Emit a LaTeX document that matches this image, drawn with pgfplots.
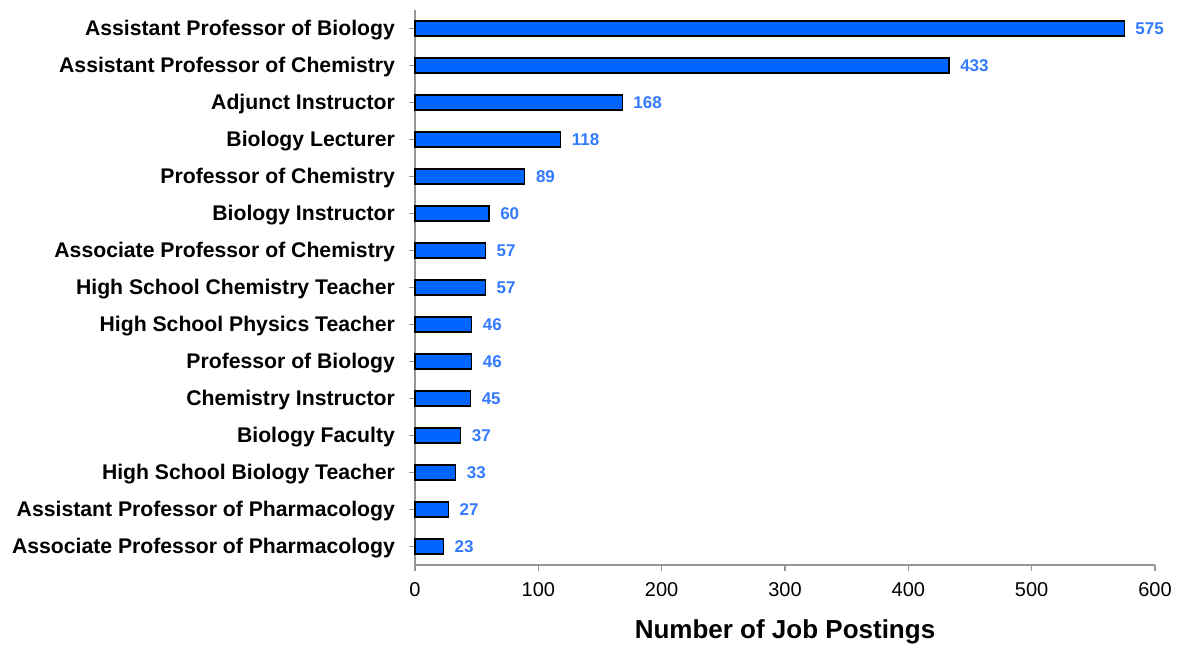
\documentclass[border=0pt]{standalone}
\usepackage{pgfplots}
\pgfplotsset{compat=1.18}
\usepackage{fontspec}
\setmainfont{Liberation Sans}
\definecolor{barblue}{RGB}{0,102,255}
\definecolor{valblue}{RGB}{51,122,255}
\definecolor{axgray}{RGB}{150,150,150}
\begin{document}
\begin{tikzpicture}
\begin{axis}[
  scale only axis,
  width=370pt, height=277.5pt,
  xbar, bar width=7.5pt,
  xmin=0, xmax=600,
  ymin=-0.5, ymax=14.5,
  xtick={0,100,...,600},
  ytick={0,...,14},
  yticklabels={Associate Professor of Pharmacology,Assistant Professor of Pharmacology,High School Biology Teacher,Biology Faculty,Chemistry Instructor,Professor of Biology,High School Physics Teacher,High School Chemistry Teacher,Associate Professor of Chemistry,Biology Instructor,Professor of Chemistry,Biology Lecturer,Adjunct Instructor,Assistant Professor of Chemistry,Assistant Professor of Biology},
  axis x line=bottom, axis y line=left,
  axis line style={axgray, line width=0.8pt, -},
  tick style={axgray, line width=0.8pt},
  tick align=outside,
  major tick length=3pt,
  /pgf/number format/assume math mode=true,
  xticklabel style={font=\fontsize{10}{12}\selectfont, yshift=-2pt},
  yticklabel style={font=\bfseries\fontsize{10.6}{12}\selectfont, xshift=-3.5pt, yshift=-1pt},
  xlabel={Number of Job Postings},
  xlabel style={font=\bfseries\fontsize{13}{15}\selectfont, yshift=-5pt},
  nodes near coords,
  nodes near coords style={anchor=west, xshift=2pt, font=\bfseries\fontsize{8.5}{10}\selectfont, text=valblue},
  clip=false,
]
\addplot[fill=barblue, draw=black, line width=0.6pt] coordinates {
(23,0) (27,1) (33,2) (37,3) (45,4) (46,5) (46,6) (57,7) (57,8) (60,9) (89,10) (118,11) (168,12) (433,13) (575,14)};
\end{axis}
\useasboundingbox (-207.5pt,-40pt) rectangle (382pt,282.5pt);
\end{tikzpicture}
\end{document}
